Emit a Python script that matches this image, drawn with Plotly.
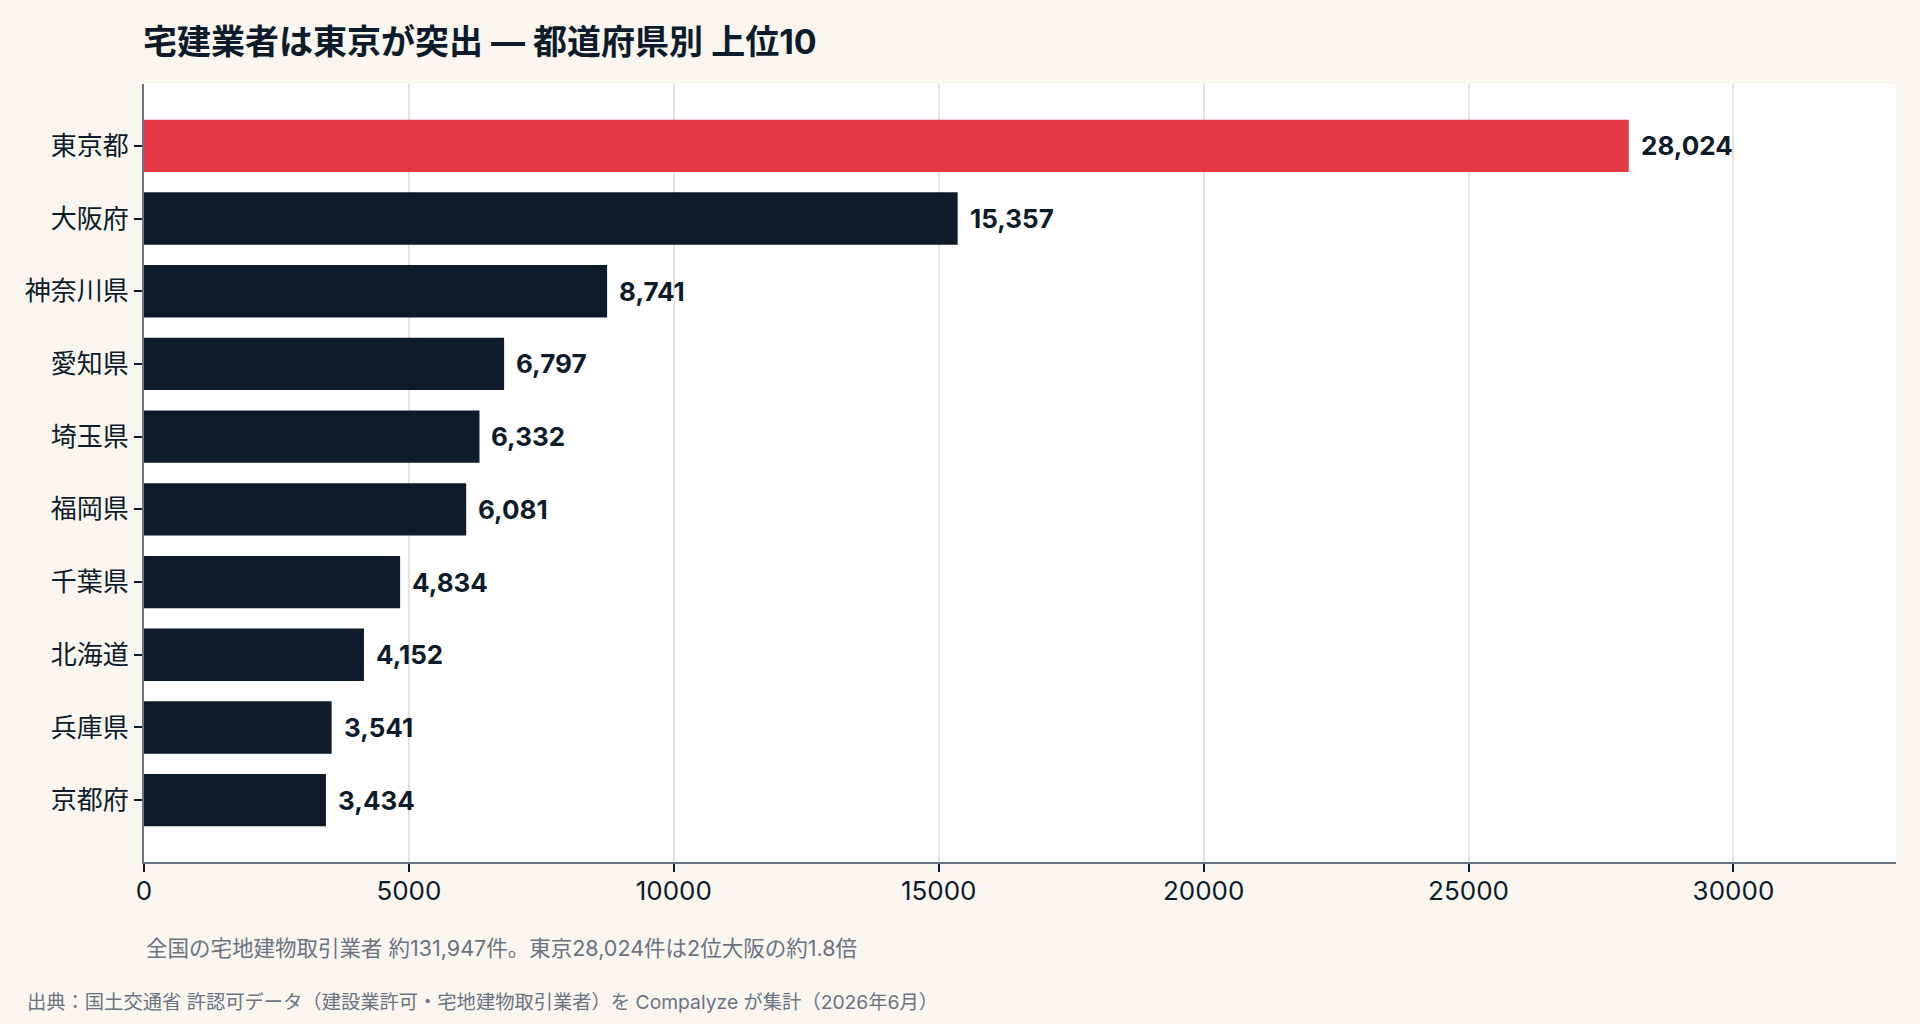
import plotly.graph_objects as go

prefectures = ["東京都", "大阪府", "神奈川県", "愛知県", "埼玉県", "福岡県", "千葉県", "北海道", "兵庫県", "京都府"]
counts = [28024, 15357, 8741, 6797, 6332, 6081, 4834, 4152, 3541, 3434]
highlight = "東京都"

title_text = "宅建業者は東京が突出 ― 都道府県別 上位10"
note_text = "全国の宅地建物取引業者 約131,947件。東京28,024件は2位大阪の約1.8倍"
source_text = "出典：国土交通省 許認可データ（建設業許可・宅地建物取引業者）を Compalyze が集計（2026年6月）"

RED = "#e63946"
NAVY = "#0d1b2a"
GREY = "#6b7280"
FONT = "Inter, 'Noto Sans CJK JP', sans-serif"

colors = [RED if p == highlight else NAVY for p in prefectures]

fig = go.Figure()
fig.add_trace(go.Bar(
    x=counts, y=prefectures, orientation="h",
    marker=dict(color=colors, line=dict(width=0)),
    hoverinfo="skip",
))

for p, v in zip(prefectures, counts):
    fig.add_annotation(
        x=v, y=p, xref="x", yref="y", text=f"<b>{v:,}</b>",
        showarrow=False, xanchor="left", yanchor="middle", xshift=10,
        font=dict(family=FONT, size=26, color=NAVY),
    )

fig.add_annotation(
    x=0, y=-0.1105, xref="paper", yref="paper", text=note_text,
    showarrow=False, xanchor="left", yanchor="middle",
    font=dict(family=FONT, size=21.5, color=GREY),
)
fig.add_annotation(
    x=-0.0679, y=-0.18, xref="paper", yref="paper", text=source_text,
    showarrow=False, xanchor="left", yanchor="middle",
    font=dict(family=FONT, size=19.3, color=GREY),
)

fig.update_layout(
    width=1920, height=1024,
    paper_bgcolor="#f9f6f0", plot_bgcolor="#ffffff",
    margin=dict(l=144, r=24, t=84, b=162),
    bargap=0.28,
    showlegend=False,
    title=dict(
        text=f"<b>{title_text}</b>",
        x=143 / 1920, xanchor="left", xref="container",
        y=1 - 42 / 1024, yanchor="middle", yref="container",
        font=dict(family=FONT, size=34, color=NAVY),
    ),
    xaxis=dict(
        range=[0, max(counts) * 1.18],
        tickmode="array", tickvals=[0, 5000, 10000, 15000, 20000, 25000, 30000],
        ticktext=["0", "5000", "10000", "15000", "20000", "25000", "30000"],
        showgrid=True, gridcolor="#e5e2da", gridwidth=2,
        zeroline=False,
        showline=True, linecolor=GREY, linewidth=2,
        ticks="outside", ticklen=8, tickcolor=NAVY, tickwidth=2,
        ticklabelstandoff=-3,
        tickfont=dict(family=FONT, size=26, color=NAVY),
    ),
    yaxis=dict(
        categoryorder="array", categoryarray=prefectures,
        range=[len(prefectures) - 1 + 0.85, -0.85],
        showgrid=False, zeroline=False,
        showline=True, linecolor=GREY, linewidth=2,
        ticks="outside", ticklen=8, tickcolor=NAVY, tickwidth=2,
        tickfont=dict(family=FONT, size=26, color=NAVY),
    ),
)

fig.write_html("out.html")
